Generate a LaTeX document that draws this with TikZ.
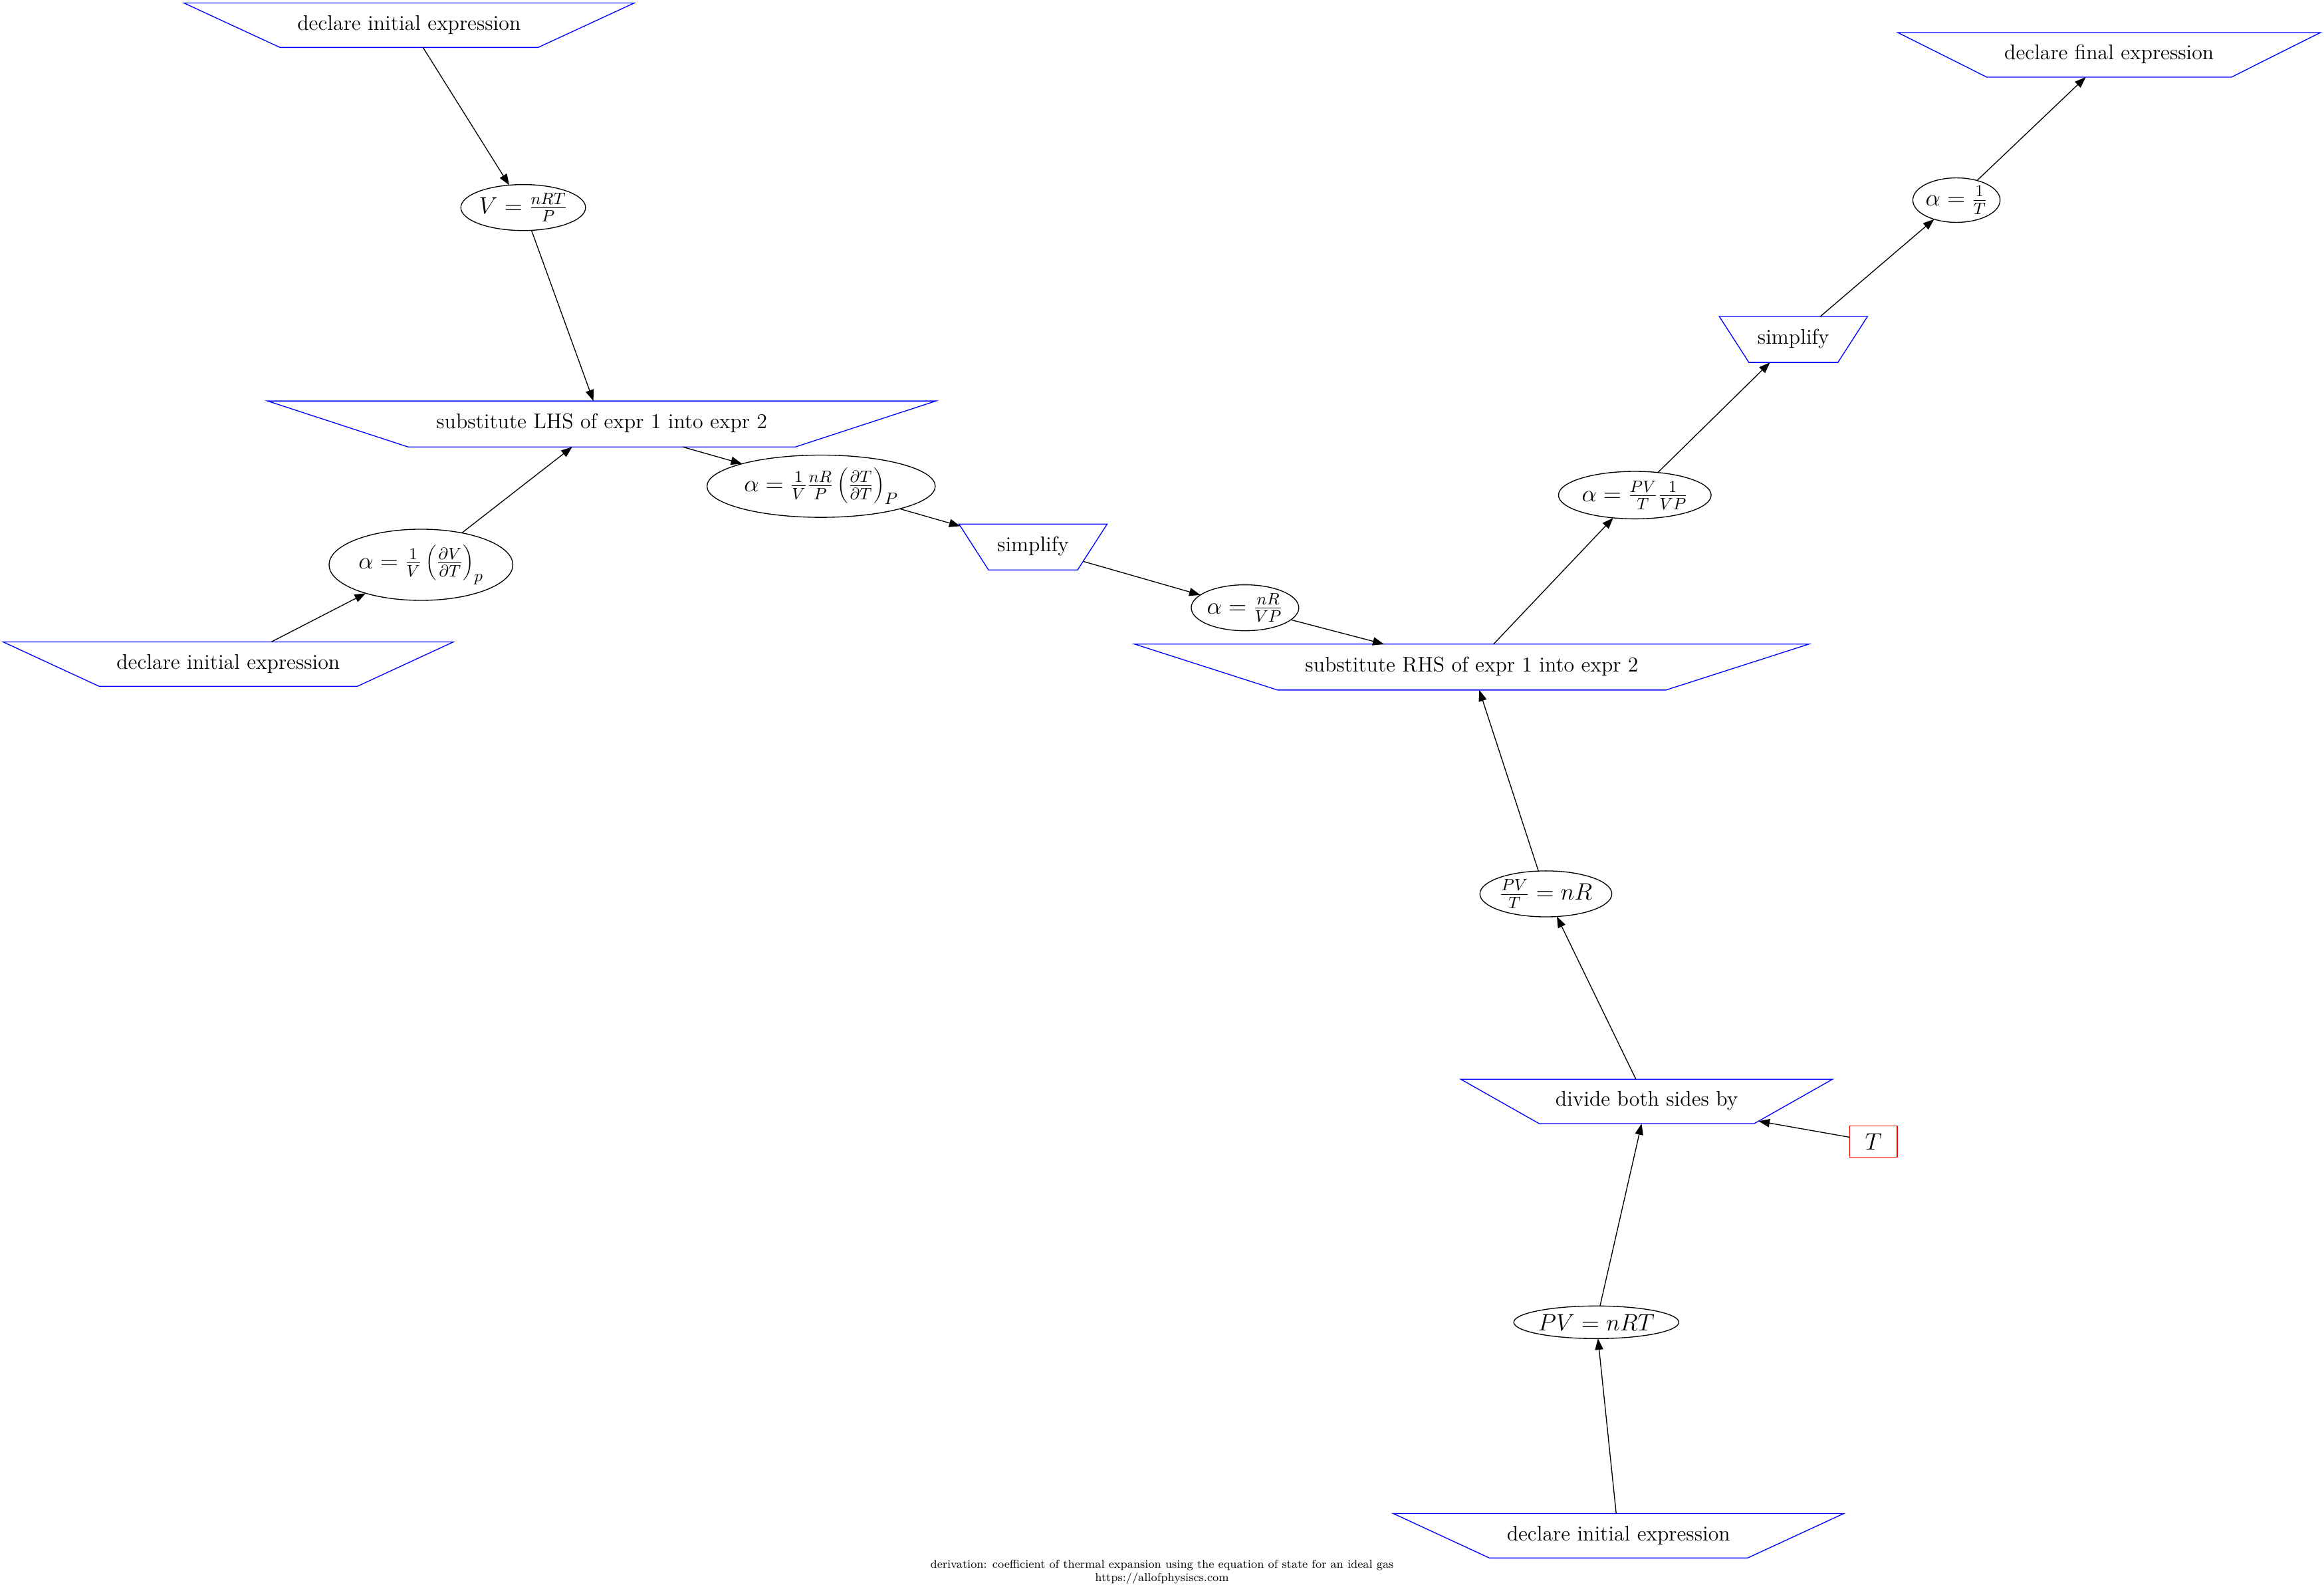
\RequirePackage{fix-cm}
\documentclass[tikz,border=0pt]{standalone}
\usetikzlibrary{shapes.geometric,arrows.meta}
\begin{document}
\begin{tikzpicture}[x=1pt,y=-1pt,
  op/.style={trapezium, trapezium stretches body, shape border rotate=180, draw=blue, line width=0.6pt,
    text height=10pt, text depth=3.5pt, inner xsep=0pt, inner ysep=8.25pt, outer sep=0pt,
    font=\fontsize{14.3}{17}\selectfont},
  expr/.style={ellipse, draw, line width=0.6pt, inner sep=0pt, outer sep=0pt, font=\fontsize{16}{19}\selectfont},
  arr/.style={-{Triangle[length=7.5pt,width=5.5pt]}, line width=0.6pt}]
  \useasboundingbox (0,0) rectangle (1568,1074.2);
  % left branch
  \node[op, trapezium angle=24.8, minimum width=304pt] (decla) at (276,17) {declare initial expression};
  \node[expr, minimum width=84pt, minimum height=31pt] (vol) at (353,140) {$V=\frac{nRT}{P}$};
  \node[op, trapezium angle=18.1, minimum width=451pt, inner ysep=8.75pt] (sublhs) at (406,286) {substitute LHS of expr 1 into expr 2};
  \node[expr, minimum width=124pt, minimum height=48pt] (alphadef) at (284,381) {$\alpha=\frac{1}{V}\left(\frac{\partial V}{\partial T}\right)_p$};
  \node[op, trapezium angle=24.8, minimum width=304pt] (declb) at (154,448) {declare initial expression};
  \node[expr, minimum width=154pt, minimum height=42pt] (alphasub) at (554,328) {$\alpha=\frac{1}{V}\frac{nR}{P}\left(\frac{\partial T}{\partial T}\right)_P$};
  \node[op, trapezium angle=57.2, minimum width=100pt, inner ysep=8.75pt] (simpa) at (697,369) {simplify};
  \node[expr, minimum width=72pt, minimum height=31pt] (alphanr) at (840,410) {$\alpha=\frac{nR}{VP}$};
  % right branch
  \node[op, trapezium angle=17.8, minimum width=455pt, inner ysep=8.75pt] (subrhs) at (993,450) {substitute RHS of expr 1 into expr 2};
  \node[expr, minimum width=103pt, minimum height=32pt] (alphapv) at (1103,334) {$\alpha=\frac{PV}{T}\frac{1}{VP}$};
  \node[op, trapezium angle=57.2, minimum width=100pt, inner ysep=8.75pt] (simpb) at (1210,229) {simplify};
  \node[expr, minimum width=58pt, minimum height=30pt] (alphat) at (1320,135) {$\alpha=\frac{1}{T}$};
  \node[op, trapezium angle=26.6, minimum width=285pt] (final) at (1423,37) {declare final expression};
  \node[expr, minimum width=89pt, minimum height=31pt] (pvt) at (1043,603) {$\frac{PV}{T}=nR$};
  \node[op, trapezium angle=29.5, minimum width=251pt] (divide) at (1111,743) {divide both sides by};
  \node[draw=red, line width=0.6pt, minimum width=32pt, minimum height=21pt, inner sep=0pt, outer sep=0pt,
    font=\fontsize{16}{19}\selectfont] (tee) at (1264,770) {$T$};
  \node[expr, minimum width=107pt, minimum height=22pt] (gas) at (1077,892) {$PV=nRT$};
  \node[op, trapezium angle=24.8, minimum width=304pt] (declc) at (1092,1036) {declare initial expression};
  \node[align=center, font=\fontsize{7.75}{9}\selectfont] (cap) at (784,1060.5)
    {derivation: coefficient of thermal expansion using the equation of state for an ideal gas\\https://allofphysiscs.com};

  \draw[arr] (decla) -- (vol);
  \draw[arr] (vol) -- (sublhs);
  \draw[arr] (declb) -- (alphadef);
  \draw[arr] (alphadef) -- (sublhs);
  \draw[arr] (sublhs) -- (alphasub);
  \draw[arr] (alphasub) -- (simpa);
  \draw[arr] (simpa) -- (alphanr);
  \draw[arr] (alphanr) -- (subrhs);
  \draw[arr] (subrhs) -- (alphapv);
  \draw[arr] (alphapv) -- (simpb);
  \draw[arr] (simpb) -- (alphat);
  \draw[arr] (alphat) -- (final);
  \draw[arr] (declc) -- (gas);
  \draw[arr] (gas) -- (divide);
  \draw[arr] (tee) -- (divide);
  \draw[arr] (divide) -- (pvt);
  \draw[arr] (pvt) -- (subrhs);
\end{tikzpicture}
\end{document}
